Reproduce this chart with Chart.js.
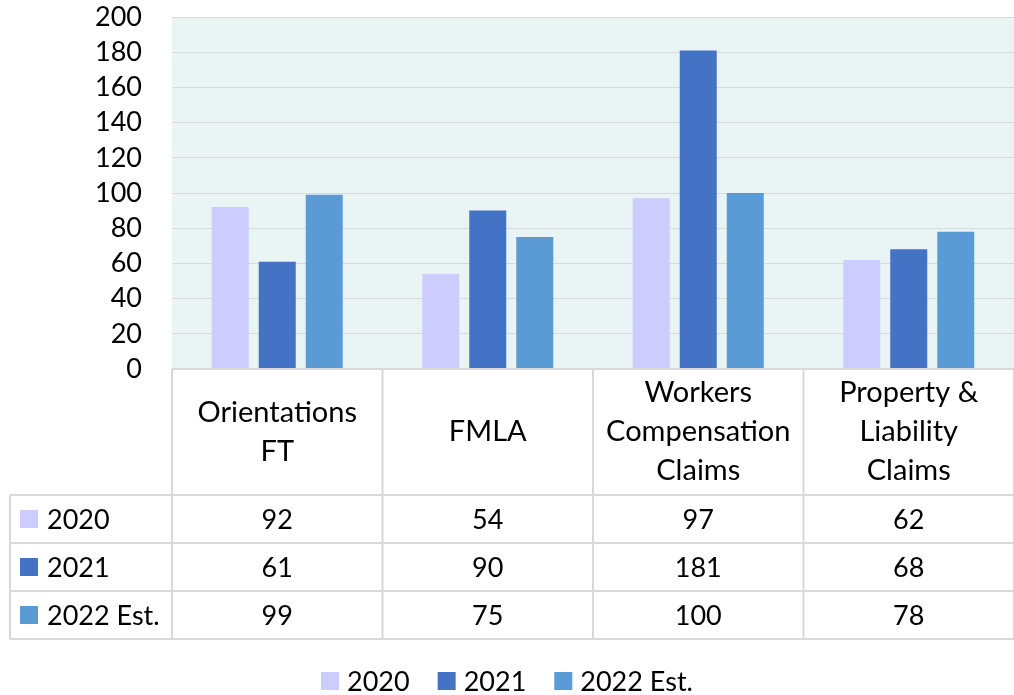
<!DOCTYPE html>
<html>
<head>
<meta charset="utf-8">
<script src="https://cdn.jsdelivr.net/npm/chart.js@4.4.0/dist/chart.umd.min.js"></script>
<style>
  html, body { margin: 0; padding: 0; background: #fff; overflow: hidden; }
  #wrap { width: 1014px; height: 695px; position: relative; }
</style>
</head>
<body>
<div id="wrap"><canvas id="myChart"></canvas></div>
<script>
// categories (header lines for the data table)
const categories = [['Orientations', 'FT'], ['FMLA'], ['Workers', 'Compensation', 'Claims'], ['Property &', 'Liability', 'Claims']];
const seriesNames = ['2020', '2021', '2022 Est.'];
const values2020 = [92, 54, 97, 62];
const values2021 = [61, 90, 181, 68];
const values2022 = [99, 75, 100, 78];
const seriesColors = ['#CCCCFF', '#4472C4', '#5B9BD5'];
const yMin = 0, yMax = 200, yStep = 20;

const FONT_WORDS = '29px Lato';
const FONT_NUMS = '27px Lato';
const LINE = '#D9D9D9';

// fundo do grafico, tabela de dados e legenda
const tablePlugin = {
    id: 'tablePlugin',
    beforeDraw(chart) {
        const { ctx, chartArea } = chart;
        ctx.save();
        ctx.fillStyle = '#E9F5F5';
        ctx.fillRect(chartArea.left, chartArea.top, chartArea.right - chartArea.left, chartArea.bottom - chartArea.top);
        ctx.restore();
    },
    afterDraw(chart) {
        const { ctx, chartArea } = chart;
        const x = chart.scales.x;
        const n = chart.data.labels.length;
        const colW = (chartArea.right - chartArea.left) / n;
        const headTop = chartArea.bottom;
        const headBottom = headTop + 126;
        const rowH = 48;
        const leftEdge = 10;
        const rows = chart.data.datasets.length;
        const tableBottom = headBottom + rowH * rows;

        ctx.save();
        ctx.strokeStyle = LINE;
        ctx.lineWidth = 2;
        ctx.beginPath();
        // linhas horizontais
        ctx.moveTo(chartArea.left, headTop); ctx.lineTo(chart.width, headTop);
        for (let r = 0; r <= rows; r++) {
            const y = headBottom + r * rowH;
            ctx.moveTo(leftEdge, y); ctx.lineTo(chart.width, y);
        }
        // linhas verticais
        for (let i = 0; i <= n; i++) {
            const cx = chartArea.left + i * colW;
            ctx.moveTo(cx, headTop); ctx.lineTo(cx, tableBottom);
        }
        ctx.moveTo(leftEdge, headBottom); ctx.lineTo(leftEdge, tableBottom);
        ctx.stroke();

        ctx.fillStyle = '#000';
        ctx.font = FONT_WORDS;
        ctx.textAlign = 'center';
        ctx.textBaseline = 'middle';
        const headMid = (headTop + headBottom) / 2;
        chart.data.labels.forEach((lines, i) => {
            const cx = x.getPixelForValue(i);
            const lh = 39;
            lines.forEach((t, k) => {
                ctx.fillText(t, cx, headMid + (k - (lines.length - 1) / 2) * lh);
            });
        });

        chart.data.datasets.forEach((ds, r) => {
            const cy = headBottom + r * rowH + rowH / 2;
            ctx.fillStyle = ds.backgroundColor;
            ctx.fillRect(20, cy - 9, 18, 18);
            ctx.fillStyle = '#000';
            ctx.textAlign = 'left';
            ctx.font = FONT_NUMS;
            ctx.fillText(ds.label, 47, cy + 1);
            ctx.textAlign = 'center';
            ds.data.forEach((v, i) => {
                ctx.fillText(String(v), x.getPixelForValue(i), cy + 1);
            });
        });

        // legenda
        const ly = 681;
        const gap = 28;
        ctx.font = FONT_NUMS;
        const widths = chart.data.datasets.map(ds => 18 + 8 + ctx.measureText(ds.label).width);
        const total = widths.reduce((a, b) => a + b, 0) + gap * (widths.length - 1);
        let lx = chart.width / 2 - total / 2;
        ctx.textAlign = 'left';
        chart.data.datasets.forEach((ds, r) => {
            ctx.fillStyle = ds.backgroundColor;
            ctx.fillRect(lx, ly - 9, 18, 18);
            ctx.fillStyle = '#000';
            ctx.fillText(ds.label, lx + 26, ly + 1);
            lx += widths[r] + gap;
        });
        ctx.restore();
    }
};

const seriesValues = [values2020, values2021, values2022];

const ctx = document.getElementById('myChart').getContext('2d');
const chart = new Chart(ctx, {
    type: 'bar',
    data: {
        labels: categories,
        datasets: seriesNames.map((name, i) => ({
            label: name,
            data: seriesValues[i],
            backgroundColor: seriesColors[i],
            borderWidth: 0,
            categoryPercentage: 0.67,
            barPercentage: 0.787
        }))
    },
    options: {
        responsive: true,
        maintainAspectRatio: false,
        animation: false,
        layout: { padding: { top: 0, right: 0, bottom: 326, left: 0 } },
        plugins: {
            legend: { display: false },
            tooltip: { enabled: false }
        },
        scales: {
            x: {
                display: false
            },
            y: {
                min: yMin,
                max: yMax,
                afterFit(scale) {
                    scale.width = 172;
                    scale.paddingTop = 17;
                    scale.paddingBottom = 0;
                },
                border: { display: false },
                grid: { color: LINE, lineWidth: 1, drawTicks: false },
                ticks: {
                    stepSize: yStep,
                    autoSkip: false,
                    padding: 30,
                    color: '#000',
                    font: { family: 'Lato', size: 27 }
                }
            }
        }
    },
    plugins: [tablePlugin]
});
</script>
</body>
</html>
